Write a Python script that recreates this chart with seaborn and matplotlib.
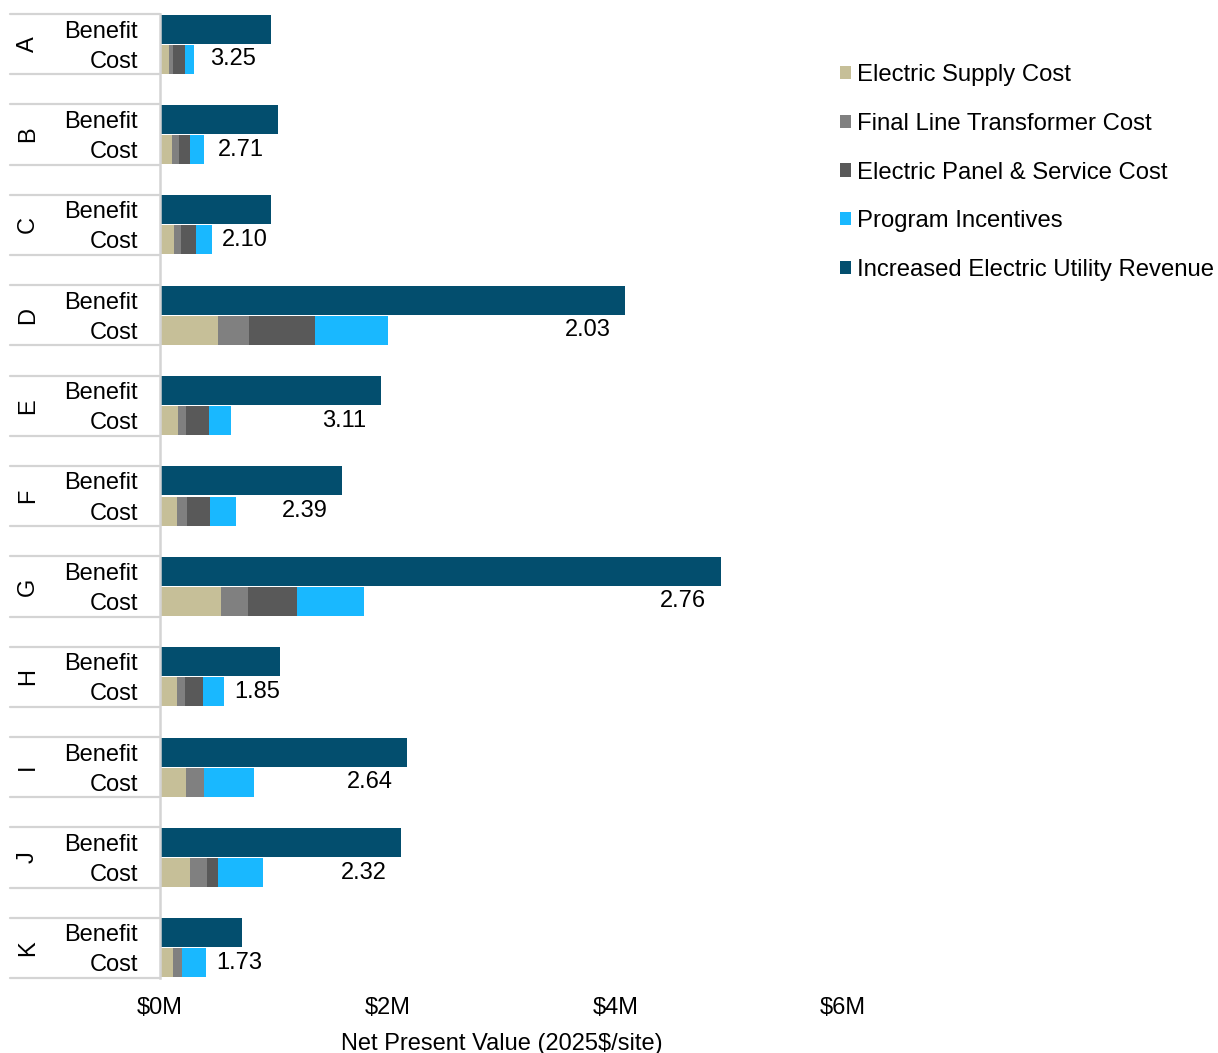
import numpy as np
import pandas as pd
import matplotlib
matplotlib.use("Agg")
import matplotlib.pyplot as plt
import seaborn as sns
from matplotlib.patches import Patch
from matplotlib.transforms import blended_transform_factory

# Net present value per site, in $M
sites = ["A", "B", "C", "D", "E", "F", "G", "H", "I", "J", "K"]
supply_cost = [0.082, 0.103, 0.126, 0.510, 0.161, 0.149, 0.538, 0.149, 0.228, 0.264, 0.112]
transformer_cost = [0.035, 0.064, 0.059, 0.272, 0.068, 0.091, 0.236, 0.070, 0.156, 0.149, 0.082]
panel_cost = [0.100, 0.097, 0.132, 0.583, 0.202, 0.202, 0.429, 0.156, 0.000, 0.097, 0.000]
incentives = [0.079, 0.123, 0.138, 0.641, 0.191, 0.223, 0.588, 0.187, 0.442, 0.393, 0.211]
utility_revenue = [0.973, 1.040, 0.973, 4.086, 1.939, 1.602, 4.930, 1.052, 2.173, 2.118, 0.723]
bc_ratio = ["3.25", "2.71", "2.10", "2.03", "3.11", "2.39", "2.76", "1.85", "2.64", "2.32", "1.73"]
row_labels = ["Benefit", "Cost"]
x_ticks = [0, 2, 4, 6]
x_tick_labels = ["$0M", "$2M", "$4M", "$6M"]
x_title = "Net Present Value (2025$/site)"

series_names = ["Electric Supply Cost", "Final Line Transformer Cost",
                "Electric Panel & Service Cost", "Program Incentives",
                "Increased Electric Utility Revenue"]
colors = ["#C6BF98", "#808080", "#595959", "#19B8FF", "#034E6E"]

sns.set_theme(style="white")
plt.rcParams["font.family"] = ["Liberation Sans", "DejaVu Sans"]
plt.rcParams["text.color"] = "black"
FS = 17

fig = plt.figure(figsize=(12.18, 10.53), dpi=100)
ax = fig.add_axes([160 / 1218, 1 - 978 / 1053, 683 / 1218, 964 / 1053])

n = len(sites)
pos_benefit = np.arange(n) * 3.0
pos_cost = pos_benefit + 1.0

# Benefit bars
df_b = pd.DataFrame({"pos": pos_benefit, "value": utility_revenue})
sns.barplot(data=df_b, x="value", y="pos", orient="h", native_scale=True,
            color=colors[4], saturation=1, width=0.96 / 3, errorbar=None,
            linewidth=0, ax=ax)

# Cost bars: cumulative layers drawn from the outermost inward
cost_parts = np.array([supply_cost, transformer_cost, panel_cost, incentives])
cum = np.cumsum(cost_parts, axis=0)
cost_total = cum[-1]
for k in range(3, -1, -1):
    df_c = pd.DataFrame({"pos": pos_cost, "value": cum[k]})
    sns.barplot(data=df_c, x="value", y="pos", orient="h", native_scale=True,
                color=colors[k], saturation=1, width=0.96 / 3, errorbar=None,
                linewidth=0, ax=ax)

ax.set_xlim(0, 6)
ax.set_ylim(31.5, -0.5)
ax.set_xticks(x_ticks)
ax.set_xticklabels(x_tick_labels, fontsize=FS, color="black")
yt = np.ravel(np.column_stack([pos_benefit, pos_cost]))
ax.set_yticks(yt)
ax.set_yticklabels(row_labels * n, fontsize=FS, color="black")
ax.tick_params(axis="y", length=0, pad=16)
ax.tick_params(axis="x", length=0, pad=13.5)
ax.set_xlabel(x_title, fontsize=FS, color="black", labelpad=10)
ax.set_ylabel("")
ax.grid(False)
for s in ["top", "right", "bottom"]:
    ax.spines[s].set_visible(False)
ax.spines["left"].set_color("#D4D4D4")
ax.spines["left"].set_linewidth(1.8)

# Group separators and site letters to the left of the axis
tr = blended_transform_factory(ax.transAxes, ax.transData)
x_left = (10 - 160) / 683
for i in range(n):
    for yv in (pos_benefit[i] - 0.5, pos_cost[i] + 0.5):
        ax.plot([x_left, 0], [yv, yv], transform=tr, color="#D4D4D4",
                lw=1.6, clip_on=False)
    ax.text((28 - 160) / 683, pos_benefit[i] + 0.5, sites[i], transform=tr,
            rotation=90, ha="center", va="center", fontsize=FS, color="black")

# Benefit-cost ratio labels
fig.canvas.draw()
renderer = fig.canvas.get_renderer()
px_per_unit = ax.transData.transform((1, 0))[0] - ax.transData.transform((0, 0))[0]
for i in range(n):
    t = ax.text(0, pos_cost[i], bc_ratio[i], ha="left", va="center",
                fontsize=FS, color="black")
    w = t.get_window_extent(renderer).width / px_per_unit
    t.set_x(max(utility_revenue[i] - 0.13 - w, cost_total[i] + 0.09))

handles = [Patch(facecolor=c, edgecolor="none") for c in colors]
leg = fig.legend(handles, series_names, loc="upper left",
                 bbox_to_anchor=(840 / 1218, 1 - 64 / 1053), frameon=False,
                 fontsize=17.2, handlelength=0.48, handleheight=0.48,
                 handletextpad=0.25, labelspacing=1.12, borderaxespad=0,
                 borderpad=0)
for txt in leg.get_texts():
    txt.set_color("black")

fig.savefig("out.png", dpi=100)
